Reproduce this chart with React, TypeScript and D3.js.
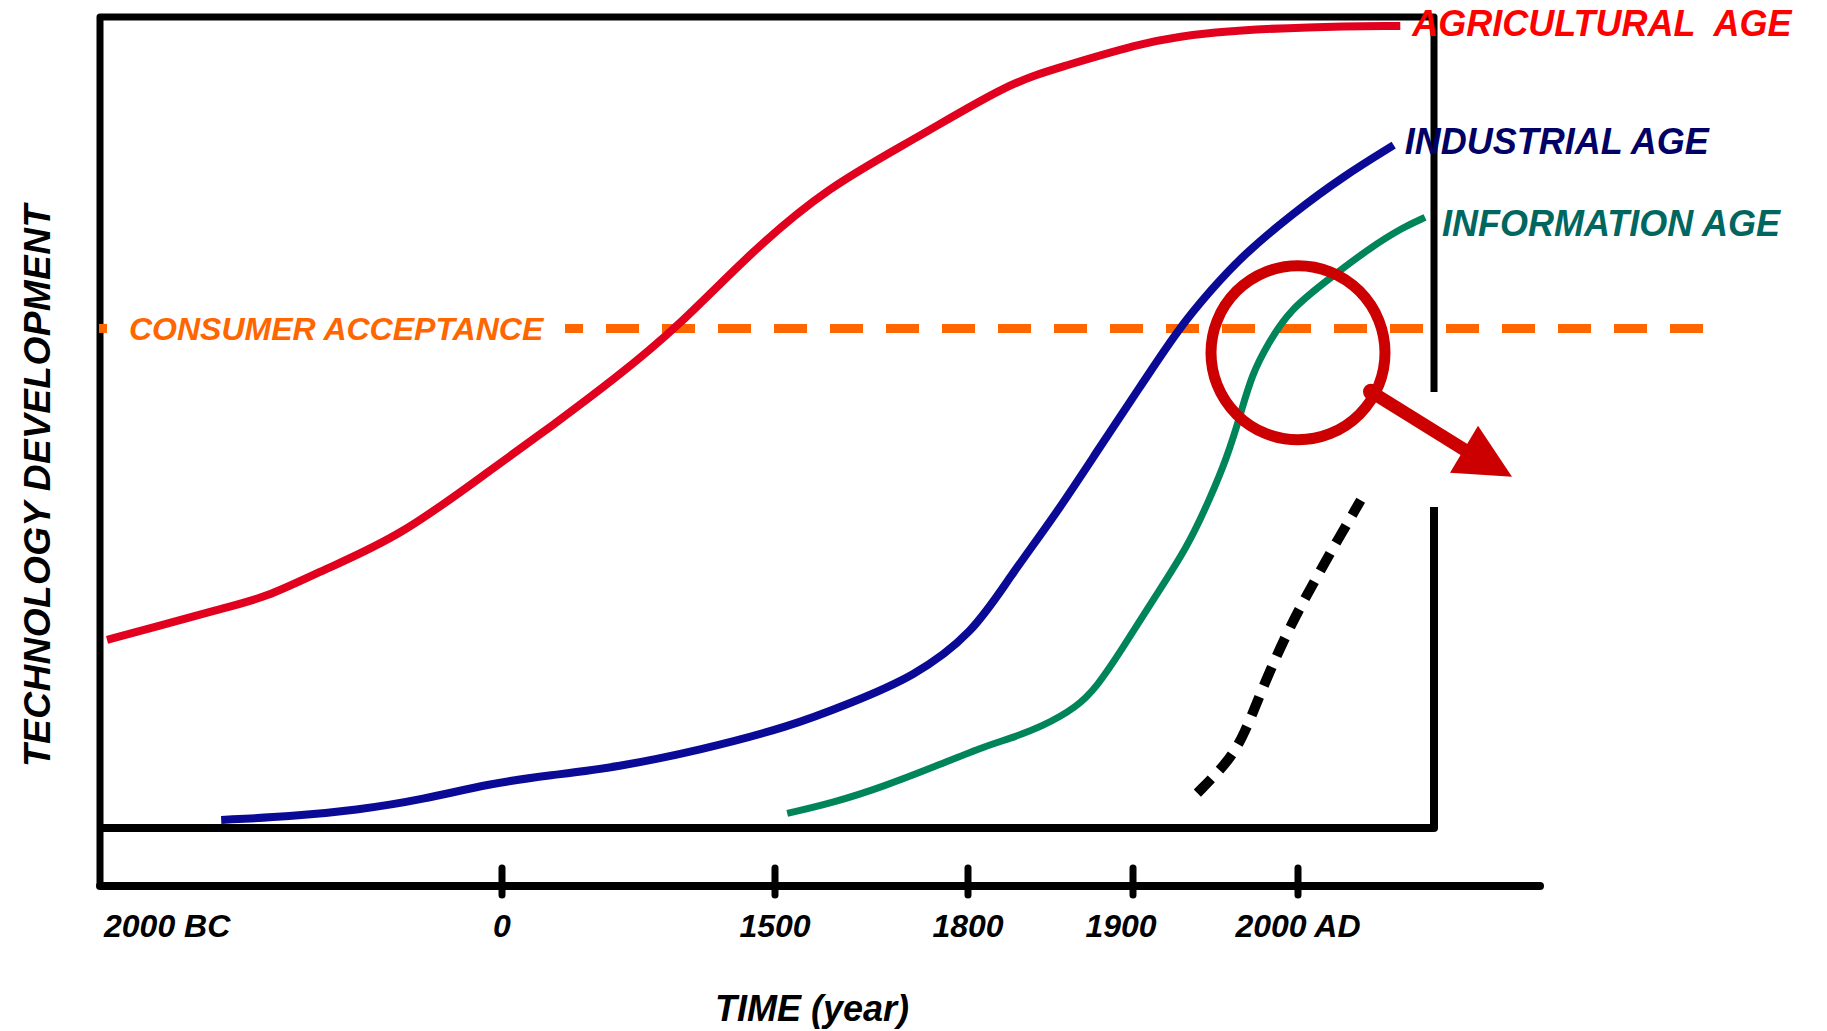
import React from 'react';
import * as d3 from 'd3';

// time axis (non-linear, one stop per labelled tick)
const tickYears = [-2000, 0, 1500, 1800, 1900, 2000];
const tickLabels = ['2000 BC', '0', '1500', '1800', '1900', '2000 AD'];

// [year, technology level 0..100]
const agricultural: [number, number][] = [
  [-1965, 23.2], [-1721, 24.8], [-1421, 26.9], [-1172, 28.4], [-893, 31.8],
  [-509, 35.9], [-60, 44.1], [264, 49.4], [632, 55.6], [962, 61.7],
  [1363, 70.9], [1581, 79.0], [1721, 85.1], [1825, 91.9], [1856, 93.8],
  [1906, 96.9], [1947, 98.2], [2007, 98.8], [2062, 98.9],
];

const industrial: [number, number][] = [
  [-1397, 1.0], [-1057, 1.4], [-723, 2.2], [-394, 3.5], [-60, 5.5],
  [264, 6.5], [632, 7.5], [1088, 9.6], [1523, 12.5], [1617, 15.4],
  [1715, 18.6], [1803, 24.0], [1825, 30.9], [1853, 38.6], [1880, 47.0],
  [1904, 54.3], [1927, 61.4], [1947, 66.3], [1967, 70.7], [1997, 75.8],
  [2027, 80.3], [2058, 84.2],
];

const information: [number, number][] = [
  [1519, 1.8], [1590, 3.1], [1668, 5.1], [1746, 7.5], [1809, 10.0],
  [1825, 11.0], [1845, 12.5], [1866, 14.9], [1878, 17.4], [1892, 21.6],
  [1912, 28.1], [1933, 34.6], [1947, 40.8], [1957, 45.7], [1965, 50.9],
  [1972, 55.9], [1982, 59.8], [1995, 63.9], [2018, 67.6], [2044, 71.6],
  [2064, 74.1], [2077, 75.3],
];

// the next (dotted) wave
const nextWave: [number, number][] = [
  [1939, 4.3], [1957, 8.0], [1967, 11.2], [1981, 18.6], [1997, 25.6],
  [2007, 29.3], [2018, 33.4], [2038, 40.4],
];

const consumerAcceptance = 61.6;
const focus: [number, number] = [2000, 58.6]; // magnifier centre

const W = 1827;
const H = 1031;
const box = { left: 100, top: 17, right: 1434, bottom: 828 };
const axisY = 886;
const axisEnd = 1540;
const font = '"Liberation Sans", Arial, sans-serif';

const x = d3.scaleLinear().domain(tickYears).range([100, 502, 775, 968, 1133, 1298]);
const y = d3.scaleLinear().domain([0, 100]).range([box.bottom, box.top]);

const line = d3.line<[number, number]>()
  .x(d => x(d[0]))
  .y(d => y(d[1]))
  .curve(d3.curveBasis);

const series = [
  { name: 'AGRICULTURAL  AGE', data: agricultural, stroke: '#E1001E', text: '#FF0000', dx: 12, dy: 10, width: 8 },
  { name: 'INDUSTRIAL AGE', data: industrial, stroke: '#0A0A96', text: '#000066', dx: 11, dy: 9, width: 8 },
  { name: 'INFORMATION AGE', data: information, stroke: '#00855A', text: '#006660', dx: 17, dy: 19, width: 7 },
];

const App = () => {
  const cy = y(consumerAcceptance);
  const fx = x(focus[0]);
  const fy = y(focus[1]);

  return (
    <div style={{ position: 'absolute', left: 0, top: 0, width: W, height: H, background: '#fff' }}>
      <svg width={W} height={H} style={{ display: 'block' }} fontFamily={font} fontWeight="bold" fontStyle="italic">
        {/* frame */}
        <path
          d={`M${box.left},${axisY} L${box.left},${box.top} L${box.right},${box.top} L${box.right},392`}
          fill="none" stroke="#000" strokeWidth={7} strokeLinejoin="round"
        />
        <path
          d={`M${box.right},507 L${box.right},${box.bottom} L${box.left},${box.bottom}`}
          fill="none" stroke="#000" strokeWidth={8} strokeLinejoin="round"
        />
        <line x1={box.left} x2={axisEnd} y1={axisY} y2={axisY} stroke="#000" strokeWidth={8} strokeLinecap="round" />
        {tickYears.slice(1).map(t => (
          <line key={t} x1={x(t)} x2={x(t)} y1={axisY - 18} y2={axisY + 9} stroke="#000" strokeWidth={7} strokeLinecap="round" />
        ))}
        {tickLabels.map((l, i) => (
          <text
            key={l}
            x={i === 0 ? x(tickYears[i]) + 4 : x(tickYears[i]) - (l === '1900' ? 12 : 0)}
            y={937}
            fontSize={32}
            textAnchor={i === 0 ? 'start' : 'middle'}
            fill="#000"
          >{l}</text>
        ))}

        {/* axis titles */}
        <text x={812} y={1021} fontSize={36} textAnchor="middle" fill="#000">TIME (year)</text>
        <text transform="translate(50,486) rotate(-90)" fontSize={37} textAnchor="middle" fill="#000" textLength={562} lengthAdjust="spacing">
          TECHNOLOGY DEVELOPMENT
        </text>

        {/* consumer acceptance */}
        <rect x={99} y={cy - 4.5} width={8} height={9} fill="#FF6600" />
        <text x={129} y={cy + 12} fontSize={32} fill="#FF6600">CONSUMER ACCEPTANCE</text>
        <line x1={565} x2={1707} y1={cy} y2={cy} stroke="#FF6600" strokeWidth={9} strokeDasharray="33 23" strokeDashoffset={15} />

        {/* waves */}
        {series.map(s => (
          <path key={s.name} d={line(s.data) || ''} fill="none" stroke={s.stroke} strokeWidth={s.width} />
        ))}
        <path d={line(nextWave) || ''} fill="none" stroke="#000" strokeWidth={10} strokeDasharray="20 12" />
        {series.map(s => {
          const last = s.data[s.data.length - 1];
          return (
            <text key={s.name} x={x(last[0]) + s.dx} y={y(last[1]) + s.dy} fontSize={36} fill={s.text} style={{ whiteSpace: 'pre' }}>
              {s.name}
            </text>
          );
        })}

        {/* magnifier */}
        <g stroke="#CC0000" fill="#CC0000">
          <circle cx={fx} cy={fy} r={87} fill="none" strokeWidth={11} />
          <line x1={fx + 73} y1={fy + 39} x2={fx + 168} y2={fy + 98} strokeWidth={13} />
          <circle cx={fx + 73} cy={fy + 39} r={8} stroke="none" />
          <polygon points={`${fx + 180},${fy + 73} ${fx + 152},${fy + 120} ${fx + 214},${fy + 124}`} stroke="none" />
        </g>
      </svg>
    </div>
  );
};

export default App;
